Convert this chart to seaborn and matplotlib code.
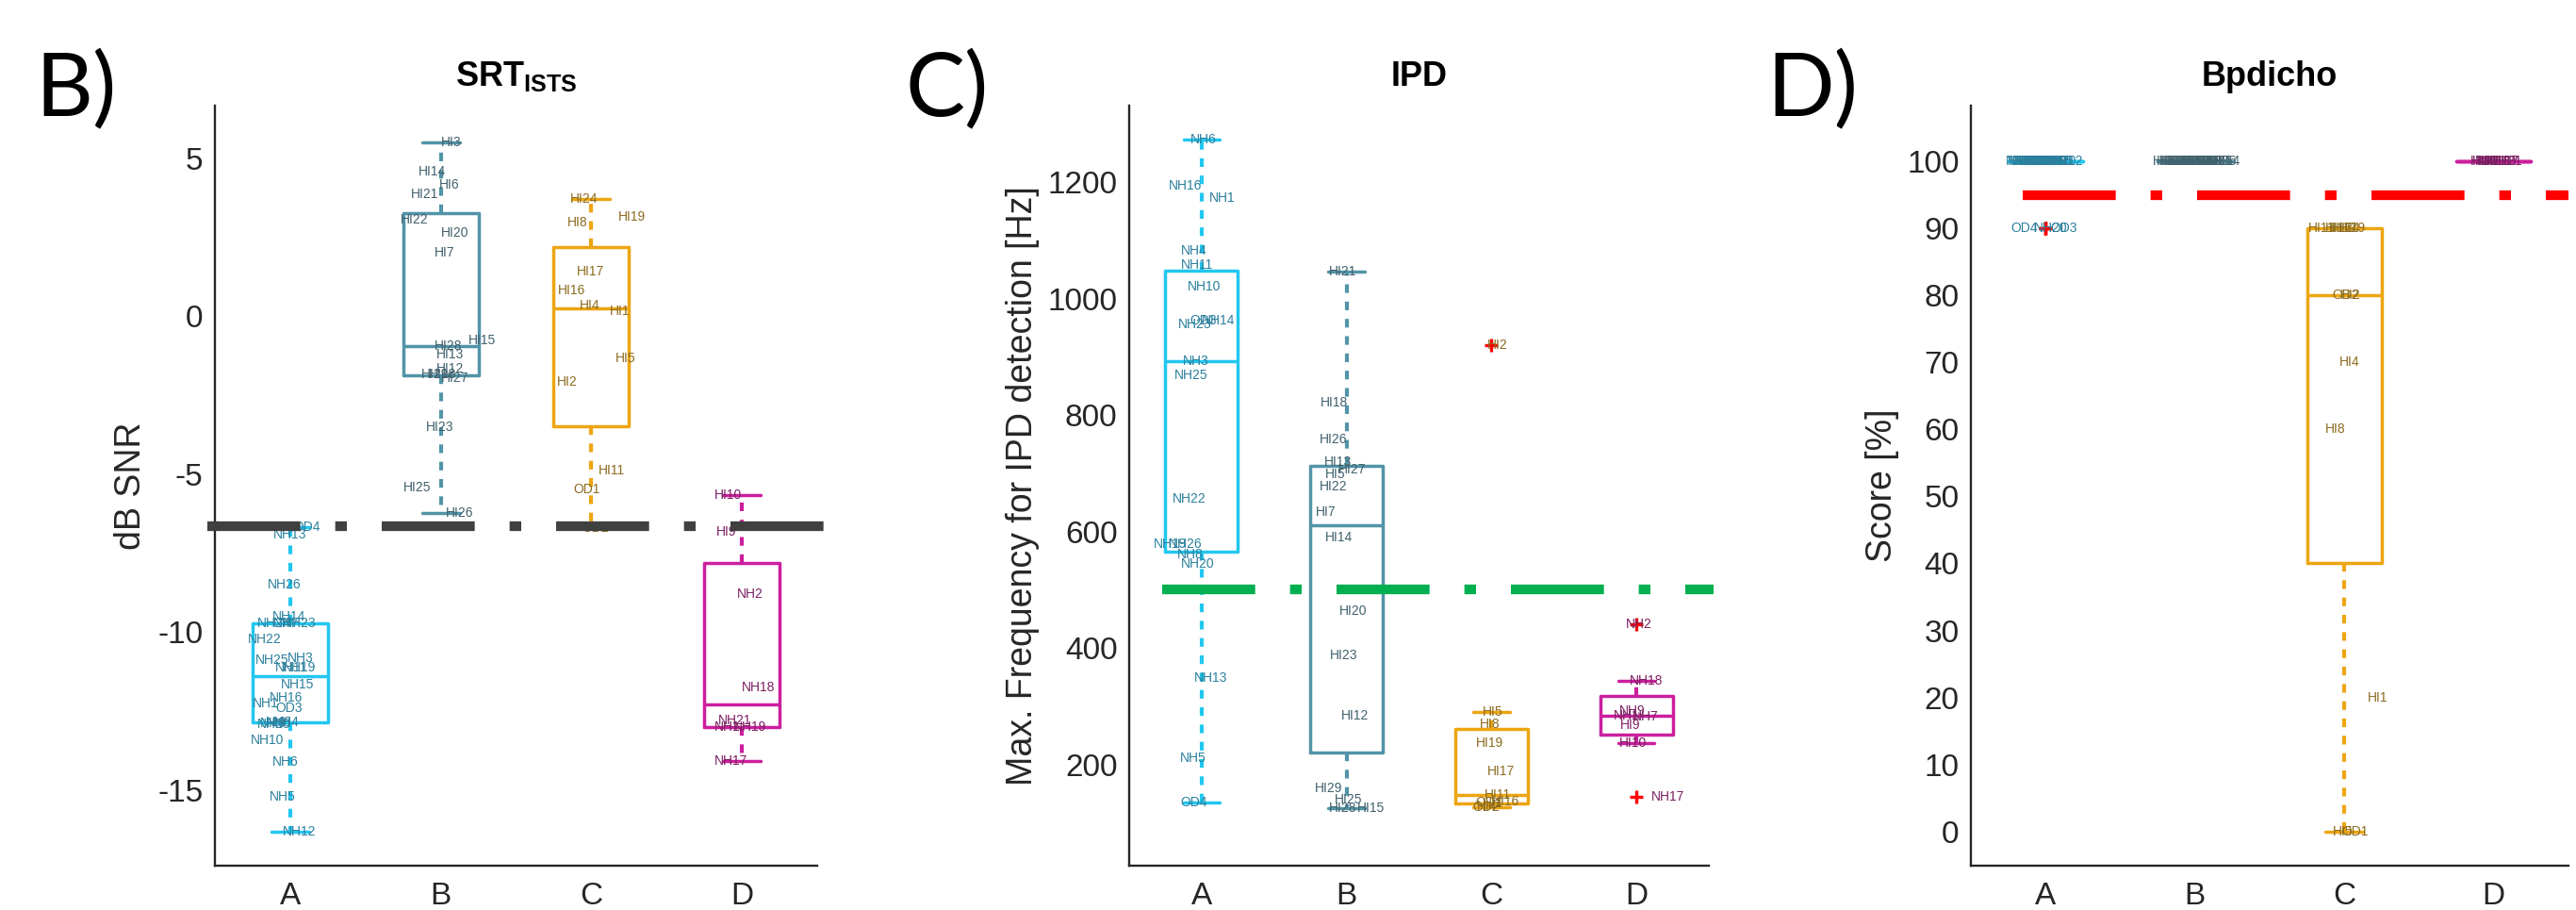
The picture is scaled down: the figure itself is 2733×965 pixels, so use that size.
import numpy as np
import pandas as pd
import matplotlib
matplotlib.use("Agg")
import matplotlib.pyplot as plt
import matplotlib.cbook as cbook


# MATLAB-style (Hazen) quartiles for the box statistics
_orig_boxplot_stats = cbook.boxplot_stats


def _hazen_boxplot_stats(X, whis=1.5, bootstrap=None, labels=None, autorange=False):
    stats = _orig_boxplot_stats(X, whis=whis, bootstrap=bootstrap,
                                labels=labels, autorange=autorange)
    arrays = X if isinstance(X, (list, tuple)) else [X]
    for st, x in zip(stats, arrays):
        x = np.asarray(x, dtype=float)
        x = x[np.isfinite(x)]
        if x.size == 0:
            continue
        q1, med, q3 = np.percentile(x, [25, 50, 75], method="hazen")
        iqr = q3 - q1
        lo, hi = q1 - whis * iqr, q3 + whis * iqr
        inside = x[(x >= lo) & (x <= hi)]
        st["q1"], st["med"], st["q3"], st["iqr"] = q1, med, q3, iqr
        st["whislo"] = min(inside.min(), q1)
        st["whishi"] = max(inside.max(), q3)
        st["fliers"] = x[(x < lo) | (x > hi)]
    return stats


cbook.boxplot_stats = _hazen_boxplot_stats
matplotlib.cbook.boxplot_stats = _hazen_boxplot_stats

import seaborn as sns

# ------------------------------------------------------------------ data
GROUPS = ["A", "B", "C", "D"]

# ---- Panel B: SRT_ISTS [dB SNR]
srt_A_labels = ["OD4", "NH13", "NH26", "NH14", "NH24", "NH7", "NH23", "NH22", "NH25",
                "NH3", "NH11", "NH19", "NH15", "NH16", "NH1", "OD3", "NH20", "NH8",
                "NH4", "NH9", "NH10", "NH6", "NH5", "NH12"]
srt_A_values = [-6.68, -6.92, -8.51, -9.52, -9.73, -9.73, -9.73, -10.22, -10.90,
                -10.83, -11.12, -11.12, -11.66, -12.08, -12.25, -12.41, -12.93, -12.85,
                -12.85, -12.90, -13.44, -14.12, -15.23, -16.33]
srt_B_labels = ["HI3", "HI14", "HI6", "HI21", "HI22", "HI20", "HI7", "HI15", "HI28",
                "HI13", "HI12", "HI29", "HI18", "HI27", "HI23", "HI25", "HI26"]
srt_B_values = [5.50, 4.58, 4.17, 3.86, 3.07, 2.65, 2.02, -0.76, -0.96,
                -1.21, -1.66, -1.84, -1.84, -1.97, -3.51, -5.41, -6.22]
srt_C_labels = ["HI24", "HI19", "HI8", "HI17", "HI16", "HI4", "HI1", "HI5", "HI2",
                "HI11", "OD1", "OD2"]
srt_C_values = [3.71, 3.14, 2.96, 1.42, 0.81, 0.33, 0.17, -1.32, -2.08,
                -4.89, -5.48, -6.71]
srt_D_labels = ["HI10", "HI9", "NH2", "NH18", "NH21", "NH1", "NH19", "NH17"]
srt_D_values = [-5.66, -6.82, -8.81, -11.77, -12.80, -13.00, -13.00, -14.10]
srt_reference = -6.65

# ---- Panel C: IPD [Hz]
ipd_A_labels = ["NH6", "NH16", "NH1", "NH4", "NH11", "NH10", "OD3", "NH14", "NH23",
                "NH3", "NH25", "NH22", "NH19", "NH26", "NH8", "NH20", "NH13", "NH5", "OD4"]
ipd_A_values = [1274, 1194, 1173, 1083, 1058, 1021, 963, 963, 956,
                893, 868, 656, 579, 579, 561, 545, 349, 211, 134]
ipd_B_labels = ["HI21", "HI18", "HI26", "HI13", "HI27", "HI5", "HI22", "HI7", "HI14",
                "HI20", "HI23", "HI12", "HI29", "HI25", "HI28", "HI15"]
ipd_B_values = [1047, 822, 759, 720, 707, 698, 678, 633, 590,
                464, 387, 283, 159, 139, 125, 125]
ipd_C_labels = ["HI2", "HI5", "HI8", "HI19", "HI17", "HI11", "OD1", "HI16", "HI1",
                "HI4", "OD2"]
ipd_C_values = [920, 290, 269, 237, 188, 148, 135, 136, 133, 128, 126]
ipd_D_labels = ["NH2", "NH18", "NH9", "NH1", "NH7", "HI9", "HI10", "NH17"]
ipd_D_values = [440, 344, 292, 284, 282, 267, 237, 144]
ipd_reference = 500

# ---- Panel D: Bpdicho [Score %]
bp_A_labels = ["NH13", "NH26", "NH14", "NH24", "NH7", "NH23", "NH22", "NH25", "NH3",
               "NH11", "NH19", "NH15", "NH16", "NH1", "NH8", "NH4", "NH9", "NH10",
               "NH6", "NH5", "NH12", "OD4", "NH20", "OD3"]
bp_A_values = [100] * 21 + [90, 90, 90]
bp_B_labels = ["HI3", "HI6", "HI21", "HI22", "HI20", "HI7", "HI15", "HI28", "HI13",
               "HI12", "HI29", "HI18", "HI27", "HI23", "HI25", "HI26", "HI14"]
bp_B_values = [100] * 17
bp_C_labels = ["HI11", "HI16", "HI17", "HI24", "HI19", "OD2", "HI2", "HI4", "HI8",
               "HI1", "HI5", "OD1"]
bp_C_values = [90, 90, 90, 90, 90, 80, 80, 70, 60, 20, 0, 0]
bp_D_labels = ["HI10", "HI9", "NH2", "NH18", "NH1", "NH19", "NH17", "NH21"]
bp_D_values = [100] * 8
bp_reference = 95

# ------------------------------------------------------------------ layout (label offsets, category units)
srt_A_dx = [0.02, -0.11, -0.15, -0.12, -0.22, -0.11, -0.05, -0.28, -0.23, -0.02, -0.10,
            -0.05, -0.06, -0.14, -0.25, -0.10, -0.22, -0.16, -0.11, -0.20, -0.26, -0.12,
            -0.14, -0.05]
srt_B_dx = [0.0, -0.15, -0.01, -0.20, -0.27, 0.0, -0.04, 0.18, -0.04, -0.03, -0.03,
            -0.13, -0.08, 0.0, -0.10, -0.25, 0.03]
srt_C_dx = [-0.14, 0.18, -0.16, -0.10, -0.22, -0.08, 0.125, 0.16, -0.23, 0.05, -0.12, -0.06]
srt_D_dx = [-0.18, -0.17, -0.03, 0.0, -0.16, -0.18, -0.06, -0.18]

ipd_A_dx = [-0.08, -0.23, 0.05, -0.145, -0.145, -0.10, -0.08, 0.0, -0.165, -0.13, -0.19,
            -0.20, -0.33, -0.23, -0.17, -0.145, -0.055, -0.15, -0.145]
ipd_B_dx = [-0.125, -0.18, -0.19, -0.155, -0.055, -0.15, -0.19, -0.21, -0.15, -0.05,
            -0.115, -0.04, -0.22, -0.08, -0.12, 0.07]
ipd_C_dx = [-0.03, -0.06, -0.08, -0.11, -0.03, -0.05, -0.11, 0.0, -0.06, -0.10, -0.13]
ipd_D_dx = [-0.07, -0.045, -0.12, -0.16, -0.03, -0.11, -0.12, 0.10]

bp_A_dx = list(np.linspace(-0.27, 0.03, 21)) + [-0.23, -0.08, 0.03]
bp_B_dx = list(np.linspace(-0.28, 0.12, 17))
bp_C_dx = [-0.24, -0.13, -0.10, -0.08, -0.04, -0.08, -0.03, -0.035, -0.13, 0.155, -0.08, -0.02]
bp_D_dx = list(np.linspace(-0.16, -0.03, 8))

BOX_COLORS = ["#22C7F0", "#5294A8", "#EDA511", "#CC1F9E"]
TEXT_COLORS = ["#2A7F9C", "#40606C", "#8B6B1F", "#7A1F62"]
AXIS_COLOR = "#262626"

# ------------------------------------------------------------------ style
sns.set_style("white")
plt.rcParams["font.family"] = ["Liberation Sans", "DejaVu Sans"]
plt.rcParams["axes.unicode_minus"] = False
plt.rcParams["mathtext.fontset"] = "custom"
plt.rcParams["mathtext.rm"] = "Liberation Sans"
plt.rcParams["mathtext.bf"] = "Liberation Sans:bold"

W, H = 2733, 965
fig = plt.figure(figsize=(W / 100, H / 100), dpi=100)
fig.patch.set_facecolor("white")


def make_df(values_list, labels_list):
    rows = []
    for g, vals, labs in zip(GROUPS, values_list, labels_list):
        for v, l in zip(vals, labs):
            rows.append({"group": g, "value": v, "label": l})
    return pd.DataFrame(rows)


def draw_panel(rect, values_list, labels_list, dx_list, ylim, yticks, title, ylabel,
               ylabel_x, ref_value, ref_color, ref_span, letter, letter_x):
    ax = fig.add_axes([rect[0] / W, 1 - rect[3] / H, (rect[2] - rect[0]) / W,
                       (rect[3] - rect[1]) / H])
    df = make_df(values_list, labels_list)
    sns.boxplot(
        data=df, x="group", y="value", hue="group", order=GROUPS, hue_order=GROUPS,
        palette=BOX_COLORS, fill=False, width=0.5, whis=1.5, legend=False,
        linewidth=2.5, ax=ax,
        whiskerprops={"linestyle": (0, (2.2, 2.2)), "linewidth": 3.0},
        capprops={"linewidth": 2.5},
        medianprops={"linewidth": 2.5},
        flierprops={"marker": "+", "markeredgecolor": "red", "markersize": 10,
                    "markeredgewidth": 2.4},
    )
    for gi, (vals, labs, dxs) in enumerate(zip(values_list, labels_list, dx_list)):
        for v, l, d in zip(vals, labs, dxs):
            ax.text(gi + d, v, l, ha="left", va="center", fontsize=10,
                    color=TEXT_COLORS[gi], zorder=4)
    ax.plot(ref_span, [ref_value, ref_value], color=ref_color, linewidth=7.4,
            linestyle=(0, (9.6, 3.6, 1.2, 3.6)), dash_capstyle="butt",
            solid_capstyle="butt", clip_on=False, zorder=6)

    ax.set_xlim(-0.5, 3.5)
    ax.set_ylim(*ylim)
    ax.set_yticks(yticks)
    ax.set_xlabel("")
    ax.set_ylabel("")
    for side in ["top", "right"]:
        ax.spines[side].set_visible(False)
    for side in ["left", "bottom"]:
        ax.spines[side].set_color(AXIS_COLOR)
        ax.spines[side].set_linewidth(1.7)
    ax.tick_params(axis="both", direction="in", length=5.5, width=1.3,
                   color=AXIS_COLOR, labelcolor=AXIS_COLOR, labelsize=24)
    ax.tick_params(axis="y", pad=9)
    ax.tick_params(axis="x", pad=12)
    ax.set_title(title, fontsize=26, fontweight="bold", pad=15, color="black")
    ax.text(ylabel_x, 0.5, ylabel, rotation=90, ha="center", va="center",
            fontsize=27, color=AXIS_COLOR, transform=ax.transAxes)
    fig.text(letter_x / W, 1 - 123 / H, letter, fontsize=68, family=["Lato", "DejaVu Sans"],
             ha="left", va="baseline", color="black")
    return ax


draw_panel((228, 112, 867, 918),
           [srt_A_values, srt_B_values, srt_C_values, srt_D_values],
           [srt_A_labels, srt_B_labels, srt_C_labels, srt_D_labels],
           [srt_A_dx, srt_B_dx, srt_C_dx, srt_D_dx],
           (-17.4, 6.67), [-15, -10, -5, 0, 5],
           r"$\mathbf{SRT}_{\mathbf{ISTS}}$", "dB SNR", -0.1385,
           srt_reference, "#404040", [-0.55, 3.73], "B)", 37)

draw_panel((1198, 112, 1813, 918),
           [ipd_A_values, ipd_B_values, ipd_C_values, ipd_D_values],
           [ipd_A_labels, ipd_B_labels, ipd_C_labels, ipd_D_labels],
           [ipd_A_dx, ipd_B_dx, ipd_C_dx, ipd_D_dx],
           (26, 1332), [200, 400, 600, 800, 1000, 1200],
           "IPD", "Max. Frequency for IPD detection [Hz]", -0.184,
           ipd_reference, "#00B050", [-0.27, 3.53], "C)", 960)

draw_panel((2091, 112, 2725, 918),
           [bp_A_values, bp_B_values, bp_C_values, bp_D_values],
           [bp_A_labels, bp_B_labels, bp_C_labels, bp_D_labels],
           [bp_A_dx, bp_B_dx, bp_C_dx, bp_D_dx],
           (-5.1, 108.3), list(range(0, 101, 10)),
           "Bpdicho", "Score [%]", -0.1475,
           bp_reference, "#FF0000", [-0.15, 3.5], "D)", 1874)

fig.savefig("out.png", dpi=100, facecolor="white")
